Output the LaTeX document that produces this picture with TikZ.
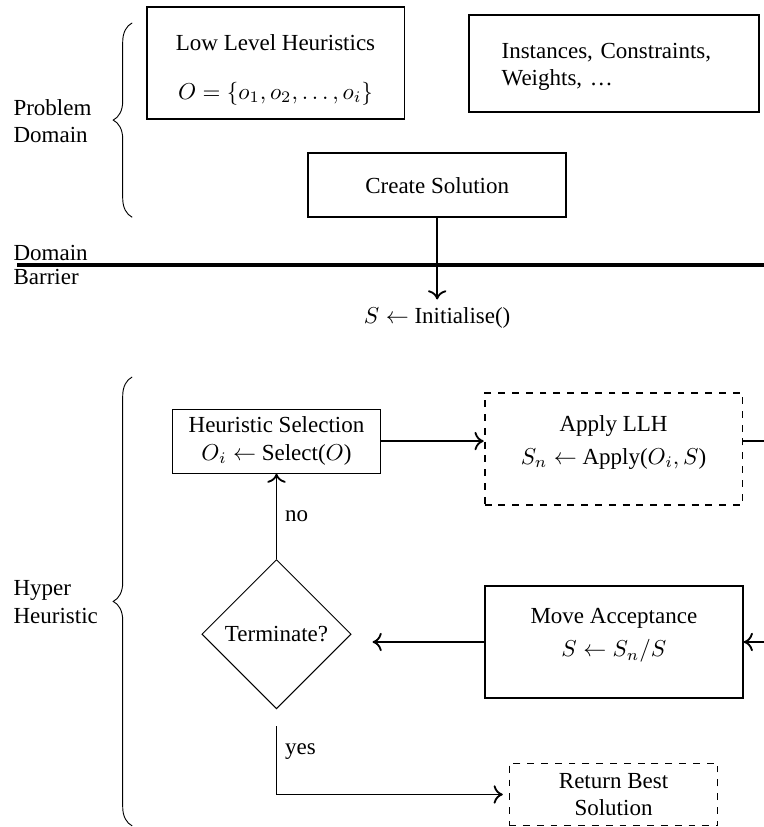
\documentclass[tikz,border=0pt]{standalone}
\usepackage{fontspec}
\setmainfont{Liberation Serif}
\usetikzlibrary{shapes.geometric,decorations.pathreplacing,arrows.meta}

\begin{document}
\begin{tikzpicture}[
  box/.style={draw,thick,align=center,minimum width=3.94cm,minimum height=1.71cm},
  dbox/.style={draw,dashed,align=center},
  arr/.style={thick,-{To[length=4pt,width=8pt]}},
  br/.style={decorate,decoration={brace,amplitude=0.29cm}}]
\useasboundingbox (0,0) rectangle (11.674,-12.637);
\clip (0,0) rectangle (11.674,-12.637);

% problem domain
\node[box] (llh) at (4.21,-0.963) {\rule{0pt}{13pt}Low Level Heuristics\\[9pt] $O=\{o_1,o_2,\ldots,o_i\}$};
\node[box,minimum width=4.43cm,minimum height=1.48cm,text width=3.43cm,align=left] (inst) at (9.38,-0.97) {\rule{0pt}{9.5pt}Instances, Constraints,\\ Weights, \ldots};
\node[box,minimum height=0.98cm] (create) at (6.68,-2.83) {Create Solution};
\draw[br] (2.02,-3.32) -- (2.02,-0.35);
\node[anchor=west,align=left,inner sep=0pt] (pd) at (0.2,-1.85) {Problem\\ Domain};

% barrier
\draw[line width=1.4pt] (0.26,-4.05) -- (12.5,-4.05);
\node[anchor=base west,inner sep=0pt] (dom) at (0.2,-3.98) {Domain};
\node[anchor=north west,inner sep=0pt] (bar) at (0.2,-4.1) {Barrier};
\node (init) at (6.68,-4.86) {$S \gets$ Initialise()};
\draw[arr] (create.south) -- (init.north);

% hyper heuristic
\draw[br] (2.02,-12.62) -- (2.02,-5.76);
\node[anchor=west,align=left,inner sep=0pt] (hh) at (0.2,-9.2) {Hyper\\ Heuristic};
\node[draw,align=center,minimum width=3.19cm,minimum height=0.98cm] (hs) at (4.225,-6.74) {Heuristic Selection\\ $O_i \gets$ Select($O$)};
\node[box,dbox] (apply) at (9.375,-6.86) {Apply LLH\\[2.3pt] $S_n \gets$ Apply($O_i,S$)\rule[-8pt]{0pt}{1pt}};
\node[draw,diamond,minimum width=2.25cm] (term) at (4.225,-9.69) {Terminate?};
\node[box] (move) at (9.38,-9.81) {Move Acceptance\\[2.3pt] $S \gets S_n/S$\rule[-8pt]{0pt}{1pt}};
\node[dbox,minimum width=3.19cm,minimum height=0.96cm] (ret) at (9.375,-12.14) {Return Best\\ Solution};

\draw[arr] (hs.east) -- (hs.east -| apply.west);
\draw[arr] (apply.east |- hs.east) -- ++(0.6,0) |- (move.east);
\draw[arr,shorten >=0.32cm] (move.west) -- (move.west -| term.east);
\draw[arr] (term.north) -- node[right] {no} (hs.south);
\draw[arr,shorten <=0.26cm,shorten >=0.09cm] (term.south) -- node[right] {yes} (term.south |- ret.west) -- (ret.west);
\end{tikzpicture}
\end{document}
